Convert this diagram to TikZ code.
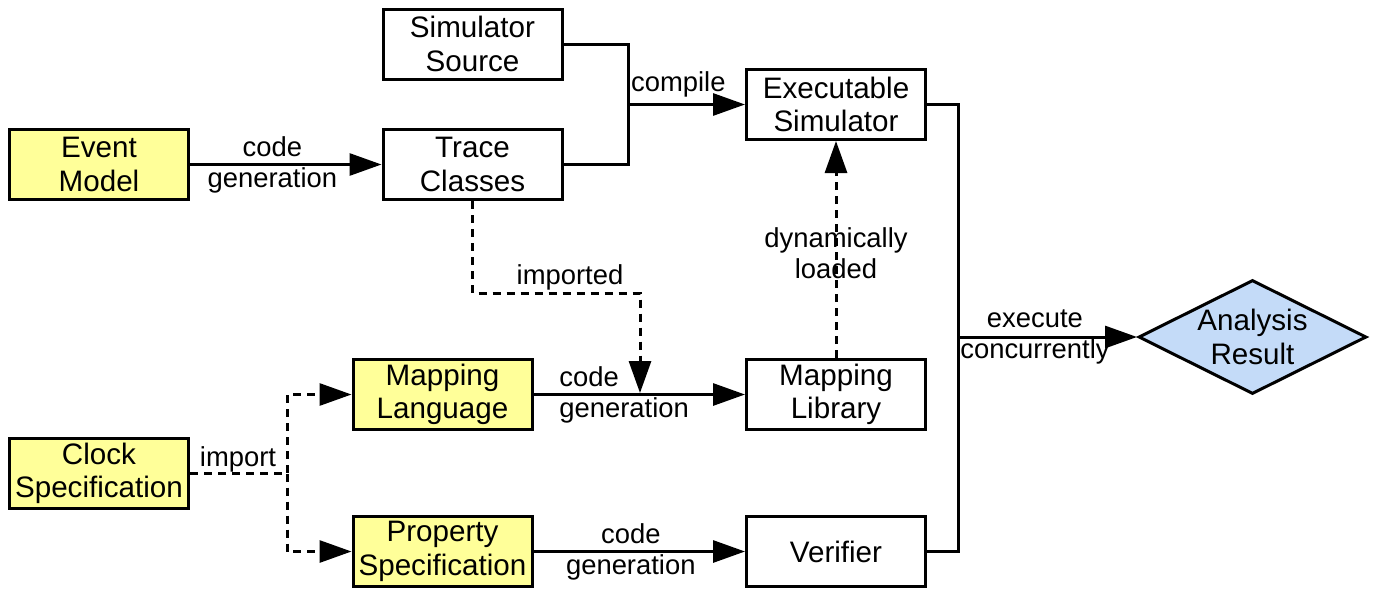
\documentclass[tikz,border=0pt]{standalone}
\usepackage{fontspec}
\setmainfont{Liberation Sans}
\usetikzlibrary{arrows.meta,shapes.geometric}
\definecolor{inyellow}{RGB}{255,255,153}
\definecolor{resultblue}{RGB}{196,219,248}
\tikzset{
    block/.style={draw, line width=1.5pt, minimum width=89.5pt, minimum height=35pt,
        align=center, inner sep=0pt, font=\fontsize{14.8}{16.8}\selectfont},
    inblock/.style={block, fill=inyellow},
    link/.style={line width=1.5pt, -{Triangle[length=16pt,width=11pt]}},
    dlink/.style={link, dash pattern=on 4pt off 3pt},
    lbl/.style={align=center, inner sep=0pt, font=\fontsize{13.7}{15.5}\selectfont}
}
\begin{document}
\begin{tikzpicture}[x=0.5pt,y=-0.5pt]
            \useasboundingbox (0,0) rectangle (1381,589);
            % boxes
            \node[inblock] (event) at (99,164.5) {Event\\Model};
            \node[block] (source) at (472.5,44) {Simulator\\Source};
            \node[block] (trace) at (472.5,164.5) {Trace\\Classes};
            \node[block] (exec) at (836,104.5) {Executable\\Simulator};
            \node[inblock] (maplang) at (442.5,394.5) {Mapping\\Language};
            \node[block] (maplib) at (836,394.5) {Mapping\\Library};
            \node[inblock] (clock) at (99,473.5) {Clock\\Specification};
            \node[inblock] (propspec) at (442.5,551.5) {Property\\Specification};
            \node[block] (verifier) at (836,551.5) {Verifier};
            \node[block, shape=diamond, aspect=2, fill=resultblue, minimum width=114pt,
                minimum height=57pt] (result) at (1252.5,337) {Analysis\\Result};
            % joints
            \coordinate (compjoin) at (628,104.5);
            \coordinate (runjoin) at (958,337);
            \coordinate (hit) at (640,393);
            \coordinate (fork) at (287,473.5);
            % connectors
            \draw[link] (event) -- node[lbl,pos=0.43]{code\\generation} (trace);
            \draw[line width=1.5pt] (source.east) -| (compjoin) |- (trace.east);
            \draw[link] (compjoin) -- node[lbl,pos=0.43,above=3pt]{compile} (exec.west);
            \draw[line width=1.5pt] (exec.east) -| (runjoin) |- (verifier.east);
            \draw[link] (runjoin) -- node[lbl,pos=0.43]{execute\\concurrently} (result.west);
            \draw[dlink] (trace.south) |- (640,293) -- (hit);
            \node[lbl] at (570,277) {imported};
            \draw[link] (maplang) -- (maplib);
            \node[lbl,align=left,anchor=west] at (559,394.5) {code\\generation};
            \draw[dlink] (maplib.north) -- node[lbl,yshift=-2pt]{dynamically\\loaded} (exec.south);
            \draw[dlink] (clock.east) -- (fork) |- (maplang.west);
            \draw[dlink] (fork) |- (propspec.west);
            \node[lbl] at (238,459) {import};
            \draw[link] (propspec) -- node[lbl,pos=0.46]{code\\generation} (verifier);
\end{tikzpicture}
\end{document}
